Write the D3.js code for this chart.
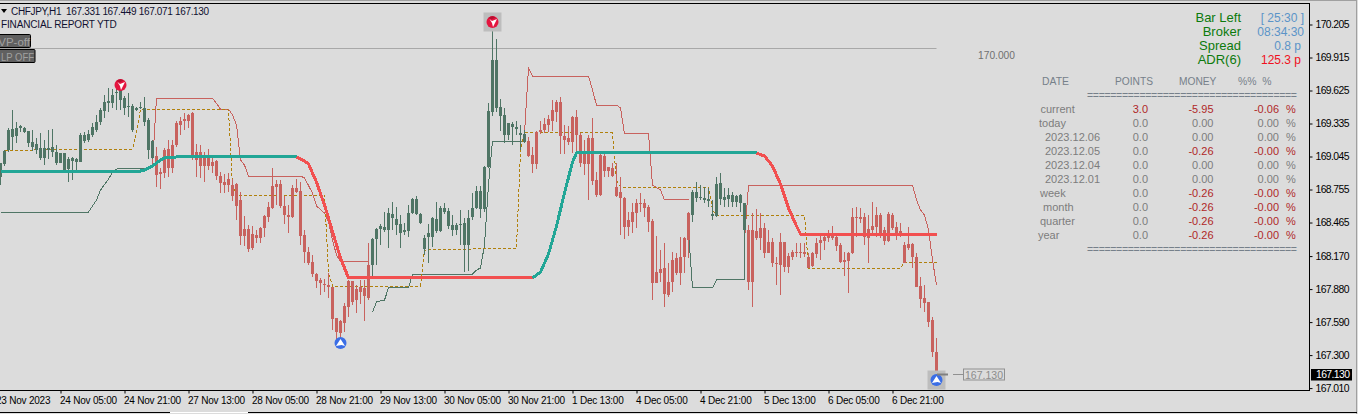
<!DOCTYPE html>
<html><head><meta charset="utf-8">
<script src="https://cdn.jsdelivr.net/npm/d3@7"></script>
<style>html,body{margin:0;padding:0;background:#dcdcdc;overflow:hidden}svg{display:block}text{font-family:"Liberation Sans",Arial,sans-serif}</style>
</head><body><div id="chart"></div>
<script>
// each bar: [high, body top, body bottom, low], in chart order
const bullBarsA=[[168.988,168.988,168.864,168.794],[169.102,169.093,168.979,168.961],[169.296,169.278,169.102,169.084],[169.453,169.287,169.216,169.102],[169.348,169.296,169.225,169.164],[169.322,169.313,169.296,169.260],[169.305,169.296,169.260,169.252],[169.269,169.269,169.164,169.128],[169.278,169.172,169.128,169.093],[169.208,169.155,169.102,169.067],
[169.252,169.120,169.032,169.014],[169.190,169.120,169.032,168.970],[169.278,169.120,169.102,169.023],[169.287,169.128,169.084,169.041],[169.146,169.084,168.988,168.970],[169.076,169.076,168.988,168.988],[169.076,169.076,168.926,168.908],[169.041,169.023,168.935,168.820],[169.041,169.032,169.005,168.838],[169.032,169.023,168.997,168.926],
[169.252,169.234,168.997,168.997],[169.260,169.234,169.181,169.164],[169.278,169.243,169.190,169.172],[169.340,169.305,169.234,169.216],[169.410,169.348,169.278,169.260],[169.471,169.453,169.348,169.322],[169.585,169.523,169.444,169.383],[169.647,169.532,169.515,169.436],[169.638,169.585,169.515,169.471],[169.655,169.612,169.603,169.453],
[169.673,169.647,169.541,169.453],[169.576,169.559,169.471,169.410],[169.603,169.488,169.480,169.392],[169.506,169.488,169.278,169.260],[169.480,169.471,169.453,169.444],[169.523,169.480,169.471,169.462],[169.568,169.471,169.348,169.313],[169.383,169.366,169.102,169.023],[169.190,169.181,169.032,169.023]];
const bearBarsA=[[169.128,169.049,168.882,168.776],[168.944,168.908,168.891,168.759],[169.120,169.102,168.900,168.856],[169.190,169.111,168.944,168.864],[169.190,169.146,168.944,168.900],[169.357,169.340,169.146,169.128],[169.392,169.357,169.322,169.234],[169.427,169.375,169.357,169.278],[169.418,169.410,169.357,169.296],[169.436,169.427,169.032,169.014],
[169.155,169.084,169.014,168.864],[169.146,169.084,168.961,168.856],[169.084,169.049,168.961,168.820],[169.111,169.049,168.961,168.926],[169.032,168.997,168.961,168.900],[169.014,169.005,168.873,168.838],[168.908,168.873,168.812,168.724],[168.891,168.820,168.794,168.724],[168.900,168.847,168.794,168.733],[168.847,168.794,168.698,168.654],
[168.812,168.803,168.610,168.487],[168.733,168.663,168.346,168.267],[168.522,168.408,168.346,168.258],[168.443,168.408,168.232,168.206],[168.434,168.364,168.241,168.223],[168.399,168.355,168.329,168.285],[168.425,168.417,168.329,168.285],[168.531,168.522,168.417,168.337],[168.645,168.601,168.513,168.469],[168.944,168.786,168.592,168.584],
[168.838,168.803,168.776,168.619],[168.838,168.803,168.610,168.592],[168.698,168.610,168.531,168.452],[168.619,168.531,168.513,168.373],[168.794,168.768,168.513,168.505],[168.847,168.768,168.733,168.724],[168.820,168.741,168.346,168.267],[168.399,168.355,168.206,168.109],[168.249,168.206,168.109,168.091],[168.179,168.117,168.012,167.986],
[168.021,168.012,167.951,167.890],[167.978,167.960,167.934,167.828],[167.969,167.925,167.916,167.854],[168.021,167.916,167.898,167.802],[167.898,167.898,167.617,167.520],[167.626,167.626,167.503,167.432],[167.608,167.600,167.494,167.388],[167.758,167.731,167.582,167.503],[167.960,167.951,167.723,167.635],[167.951,167.951,167.767,167.740],
[167.916,167.881,167.784,167.670],[167.960,167.898,167.854,167.749],[167.960,167.890,167.819,167.600],[168.285,168.091,167.802,167.784]];
const bullBarsB=[[168.329,168.320,168.091,167.978],[168.417,168.408,168.320,168.091],[168.452,168.434,168.408,168.267],[168.557,168.425,168.399,168.381],[168.592,168.548,168.399,168.241],[168.645,168.540,168.504,168.399],[168.601,168.496,168.443,168.355],[168.531,168.452,168.373,168.241],[168.461,168.399,168.381,168.355],[168.619,168.548,168.390,168.337],
[168.680,168.671,168.548,168.540],[168.698,168.671,168.540,168.531],[168.548,168.540,168.461,168.452],[168.355,168.329,168.232,168.179],[168.452,168.373,168.337,168.109],[168.513,168.504,168.337,168.249],[168.645,168.496,168.390,168.373],[168.610,168.592,168.390,168.381],[168.636,168.592,168.557,168.540],[168.592,168.566,168.434,168.408],
[168.531,168.443,168.399,168.346],[168.461,168.443,168.399,168.355],[168.575,168.452,168.443,168.267],[168.504,168.461,168.267,168.030],[168.575,168.504,168.267,168.039],[168.724,168.592,168.513,168.487],[168.786,168.741,168.592,168.584],[168.786,168.741,168.584,168.504],[168.961,168.953,168.584,168.557],[169.515,169.444,168.953,168.944],
[170.174,169.893,169.436,169.401],[170.077,169.893,169.471,169.436],[169.550,169.480,169.401,169.269],[169.471,169.410,169.234,169.164],[169.340,169.340,169.234,169.190],[169.348,169.331,169.305,169.146],[169.357,169.305,169.287,169.234],[169.322,169.252,169.234,169.102],[169.278,169.243,169.172,169.164]];
const bearBarsB=[[169.216,169.181,169.049,169.041],[169.128,169.058,168.979,168.900],[169.269,169.260,168.979,168.935],[169.357,169.278,169.260,169.243],[169.383,169.331,169.278,169.252],[169.410,169.375,169.322,169.260],[169.541,169.453,169.357,169.269],[169.541,169.523,169.436,169.348],[169.568,169.523,169.225,169.067],[169.322,169.225,169.190,169.067],
[169.313,169.208,169.172,169.146],[169.401,169.392,169.172,169.076],[169.453,169.392,169.234,169.058],[169.252,169.234,168.988,168.953],[169.190,169.093,168.979,168.882],[169.234,169.208,168.979,168.663],[169.383,169.208,168.829,168.794],[168.908,168.838,168.706,168.689],[169.084,169.058,168.706,168.698],[169.084,169.049,168.917,168.864],
[168.953,168.953,168.917,168.864],[168.988,168.944,168.873,168.864],[168.988,168.776,168.698,168.689],[168.864,168.733,168.680,168.355],[168.689,168.680,168.425,168.320],[168.557,168.487,168.425,168.346],[168.636,168.557,168.469,168.373],[168.671,168.636,168.548,168.417],[168.724,168.636,168.627,168.557],[168.671,168.636,168.592,168.513],
[168.619,168.601,168.469,168.381],[168.496,168.478,167.934,167.784],[168.346,168.030,167.934,167.934],[168.223,168.056,168.021,167.942],[168.285,168.065,167.837,167.723],[168.109,167.942,167.828,167.810],[168.206,168.135,167.942,167.854],[168.197,168.153,168.021,168.003],[168.337,168.162,168.021,167.916],[168.337,168.329,168.162,168.021],
[168.557,168.548,168.311,168.153]];
const bullBarsC=[[168.750,168.733,168.531,168.469],[168.820,168.733,168.680,168.645],[168.794,168.689,168.680,168.663],[168.776,168.680,168.663,168.636],[168.768,168.671,168.654,168.601],[168.663,168.540,168.522,168.487],[168.864,168.803,168.522,168.513],[168.900,168.812,168.671,168.619],[168.768,168.689,168.663,168.601],[168.768,168.706,168.671,168.601],
[168.733,168.706,168.645,168.601],[168.706,168.698,168.645,168.601],[168.715,168.706,168.636,168.557],[168.636,168.636,168.399,168.223]];
const bearBarsC=[[168.443,168.399,167.942,167.872],[168.548,168.399,167.942,167.723],[168.584,168.390,168.329,168.311],[168.548,168.417,168.329,168.223],[168.461,168.417,168.197,168.153],[168.399,168.293,168.197,168.197],[168.329,168.293,168.109,168.074],[168.162,168.109,168.100,167.916],[168.373,168.293,168.091,167.828],[168.293,168.293,168.074,168.030],
[168.197,168.170,168.074,168.021],[168.223,168.206,168.162,168.135],[168.285,168.206,168.197,168.162],[168.285,168.206,168.206,168.153],[168.285,168.206,168.188,168.162],[168.197,168.162,168.065,168.065],[168.206,168.197,168.082,168.074],[168.329,168.285,168.188,168.153],[168.373,168.311,168.285,168.135],[168.373,168.337,168.302,168.223],
[168.399,168.346,168.329,168.293],[168.434,168.346,168.329,168.311],[168.373,168.337,168.258,168.214],[168.285,168.267,168.117,168.109],[168.206,168.135,168.117,167.995],[168.206,168.197,168.126,167.845],[168.592,168.513,168.197,168.188],[168.601,168.513,168.504,168.337],[168.592,168.513,168.496,168.461],[168.548,168.513,168.337,168.267],
[168.531,168.408,168.329,168.109],[168.645,168.434,168.399,168.373],[168.601,168.531,168.425,168.337],[168.548,168.531,168.373,168.329],[168.425,168.399,168.302,168.267],[168.557,168.540,168.302,168.293],[168.548,168.531,168.417,168.399],[168.469,168.425,168.373,168.311],[168.461,168.390,168.355,168.337],[168.293,168.267,168.109,168.109],
[168.425,168.276,168.241,168.223],[168.285,168.276,168.162,168.065],[168.197,168.162,167.898,167.898],[167.986,167.907,167.793,167.714],[167.916,167.802,167.758,167.679],[167.767,167.767,167.591,167.547],[167.635,167.608,167.327,167.283],[167.449,167.331,167.130,167.071]];

// indicator lines: [bar number, price]
const maUpA=[[0,168.909],[34,168.909],[36,168.926],[38,168.961],[40,169.014],[41,169.032],[44,169.041],[74,169.041]];
const maDownA=[[74,169.041],[76,169.005],[77,168.979],[79,168.820],[81,168.619],[82,168.504],[85,168.153],[87,167.978],[133,167.978]];
const maUpB=[[133,167.978],[135,168.030],[137,168.188],[139,168.434],[141,168.724],[143,168.997],[144,169.076],[189,169.076]];
const maDownB=[[189,169.076],[191,169.049],[193,168.961],[195,168.803],[197,168.592],[199,168.434],[200,168.364],[234,168.364]];
const stopBullA=[[0,168.557],[22,168.557],[24,168.663],[25,168.750],[27,168.847],[28,168.908],[29,168.935],[37,168.944],[38,168.970]];
const stopBearA=[[38,168.970],[39,169.559],[53,169.559],[55,169.462],[57,169.462],[58,169.410],[59,169.322],[60,169.014],[61,168.970],[62,168.873],[75,168.873],[76,168.856],[78,168.724],[79,168.610],[81,168.548],[82,168.469],[83,168.311],[84,168.179],[85,168.126],[92,168.126]];
const stopBullB=[[93,167.679],[94,167.767],[96,167.784],[97,167.890],[102,167.890],[103,168.012],[118,168.012],[119,168.047],[120,168.065],[121,168.267],[122,168.794],[123,169.181],[131,169.181]];
const stopBearB=[[131,169.252],[132,169.823],[133,169.752],[147,169.752],[148,169.629],[149,169.497],[154,169.497],[155,169.471],[156,169.243],[162,169.243],[163,168.794],[165,168.750],[166,168.663],[172,168.663]];
const stopBullC=[[172,168.381],[173,167.890],[178,167.890],[179,167.960],[186,167.960],[186,168.311]];
const stopBearC=[[186,168.311],[187,168.794],[228,168.794],[229,168.663],[230,168.575],[231,168.531],[232,168.399],[233,168.135],[234,167.916]];
const dashedStep=[[1,169.102],[8,169.102],[9,169.111],[33,169.111],[34,169.252],[35,169.462],[55,169.462],[57,169.453],[58,168.794],[59,168.706],[81,168.706],[82,168.021],[83,167.907],[105,167.907],[106,168.223],[129,168.241],[130,169.102],[131,169.252],[153,169.252],[154,168.838],[155,168.776],[177,168.776],[178,168.575],[179,168.531],[201,168.531],[202,168.065],[225,168.065],[226,168.117],[234,168.117]];

const priceTicks=[170.205,169.915,169.625,169.335,169.045,168.755,168.465,168.170,167.880,167.590,167.300,167.010];
const timeLabels=["23 Nov 2023","24 Nov 05:00","24 Nov 21:00","27 Nov 13:00","28 Nov 05:00","28 Nov 21:00","29 Nov 13:00","30 Nov 05:00","30 Nov 21:00","1 Dec 13:00","4 Dec 05:00","4 Dec 21:00","5 Dec 13:00","6 Dec 05:00","6 Dec 21:00"];
const timeBars=[-1,15,31,47,63,79,95,111,127,143,159,175,191,207,223];
const sellMarks=[[30,169.673],[123,170.227]];
const buyMarks=[[85,167.406],[234,167.081]];
const levelPrice=170.000, lastPrice=167.130;
const quote=["167.331","167.449","167.071","167.130"];
const infoLabels=["Bar Left","Broker","Spread","ADR(6)"];
const infoValues=["[ 25:30 ]","08:34:30","0.8 p","125.3 p"];
const tableLabels=["current","today","2023.12.06","2023.12.05","2023.12.04","2023.12.01","week","month","quarter","year"];
const tablePoints=["3.0","0.0","0.0","0.0","0.0","0.0","0.0","0.0","0.0","0.0"];
const tableMoney=["-5.95","0.00","0.00","-0.26","0.00","0.00","-0.26","-0.26","-0.26","-0.26"];
const tablePercent=["-0.06","0.00","0.00","-0.00","0.00","0.00","-0.00","-0.00","-0.00","-0.00"];

const W=1358,H=414,BULL="#4f7565",BEAR="#c8625e",TEAL="#22a696",RED="#f25050",ORANGE="#b0800c";
const svg=d3.select("#chart").append("svg").attr("width",W).attr("height",H);
const x=d3.scaleLinear().domain([0,234]).range([0.5,936.5]);
const y=d3.scaleLinear().domain([170.205,167.010]).range([24.5,388.1]);
svg.append("rect").attr("width",W).attr("height",H).attr("fill","#dcdcdc");
svg.append("defs").append("clipPath").attr("id","plot").append("rect").attr("x",0).attr("y",4).attr("width",1309).attr("height",386);
const plot=svg.append("g").attr("clip-path","url(#plot)");

// 170.000 level
plot.append("line").attr("x1",0).attr("x2",x(234)).attr("y1",Math.round(y(levelPrice))+.5).attr("y2",Math.round(y(levelPrice))+.5).attr("stroke","#a8a8a8");
svg.append("text").attr("x",978).attr("y",59).attr("font-size",11).attr("fill","#707070").attr("textLength",37).attr("lengthAdjust","spacingAndGlyphs").text(levelPrice.toFixed(3));

// thin indicator lines
const line=d3.line().x(d=>x(d[0])).y(d=>y(d[1]));
[[stopBullA,BULL],[stopBullB,BULL],[stopBullC,BULL],[stopBearA,BEAR],[stopBearB,BEAR],[stopBearC,BEAR]].forEach(([d,c])=>
  plot.append("path").attr("d",line(d)).attr("fill","none").attr("stroke",c).attr("stroke-width",1).attr("shape-rendering","crispEdges"));
plot.append("path").attr("d",line(dashedStep)).attr("fill","none").attr("stroke",ORANGE).attr("stroke-width",1).attr("stroke-dasharray","3,2").attr("shape-rendering","crispEdges");

// candles
let barNo=0;
[[bullBarsA,BULL],[bearBarsA,BEAR],[bullBarsB,BULL],[bearBarsB,BEAR],[bullBarsC,BULL],[bearBarsC,BEAR]].forEach(([bars,c])=>{
  const g=plot.append("g").attr("fill",c);
  const start=barNo;
  g.selectAll("g").data(bars).enter().append("g").each(function(d,k){
    const s=d3.select(this),cx=x(start+k);
    const h=Math.round(y(d[0])),l=Math.round(y(d[3])),t=Math.round(y(d[1])),b=Math.round(y(d[2]));
    s.append("rect").attr("x",cx-.5).attr("width",1).attr("y",h).attr("height",Math.max(1,l-h));
    s.append("rect").attr("x",cx-1.5).attr("width",3).attr("y",t).attr("height",Math.max(1,b-t));
  });
  barNo+=bars.length;
});

// thick trend line
[[maUpA,TEAL],[maDownA,RED],[maUpB,TEAL],[maDownB,RED]].forEach(([d,c])=>
  plot.append("path").attr("d",line(d)).attr("fill","none").attr("stroke",c).attr("stroke-width",3).attr("stroke-linejoin","round").attr("shape-rendering","crispEdges"));

// signal icons
function backdrop(m){plot.append("rect").attr("x",x(m[0])-9).attr("y",y(m[1])-9.5).attr("width",18).attr("height",19).attr("fill","#bdbdbd");}
backdrop(sellMarks[1]);backdrop(buyMarks[1]);
sellMarks.forEach(m=>{
  const g=plot.append("g").attr("transform",`translate(${x(m[0])},${y(m[1])})`);
  g.append("circle").attr("r",6).attr("fill","#e4153f");
  g.append("path").attr("d","M-3,-3 L-0.5,-1 L4.5,-3 L0.5,5 L-0.5,1 Z").attr("fill","#fff");
  g.append("path").attr("d","M-4,-4 A5.5,5.5 0 0 1 3,-4.5 L-1,-2.5 Z").attr("fill","#b80f30");
});
buyMarks.forEach(m=>{
  const g=plot.append("g").attr("transform",`translate(${x(m[0])},${y(m[1])})`);
  g.append("circle").attr("r",6).attr("fill","#3b6ee6");
  g.append("path").attr("d","M0,-4 L4.5,3 L1,2 L-4.5,3 Z").attr("fill","#fff");
});

// last-price marker and box
const ly=Math.round(y(lastPrice))+.5;
plot.append("line").attr("x1",x(234)+.5).attr("x2",948).attr("y1",ly).attr("y2",ly).attr("stroke","#808080").attr("stroke-width",2);
plot.append("line").attr("x1",953).attr("x2",963).attr("y1",ly).attr("y2",ly).attr("stroke","#909090");
svg.append("rect").attr("x",963.5).attr("y",ly-5.5).attr("width",41).attr("height",11).attr("fill","none").attr("stroke","#909090");
svg.append("text").attr("x",965).attr("y",ly+4).attr("font-size",11).attr("fill","#8c8c8c").attr("textLength",38).attr("lengthAdjust","spacingAndGlyphs").text(lastPrice.toFixed(3));

// axes
const yAxis=d3.axisRight(y).tickValues(priceTicks).tickSize(3).tickPadding(3).tickFormat(d3.format(".3f"));
const ya=svg.append("g").attr("transform","translate(1309.5,0)").call(yAxis);
ya.select(".domain").remove();
ya.selectAll("line").attr("stroke","#000");
ya.selectAll("text").attr("font-size",10.4).attr("letter-spacing",-.6).attr("fill","#000");
const xa=svg.append("g");
const xAxis=d3.axisBottom(x).tickValues(timeBars).tickSize(3).tickPadding(2).tickFormat((d,k)=>timeLabels[k]);
xa.attr("transform","translate(0,390.5)").call(xAxis);
xa.select(".domain").remove();
xa.selectAll("line").attr("stroke","#000");
xa.selectAll("text").attr("text-anchor","start").attr("dx",-1).attr("dy",8).attr("font-size",10).attr("letter-spacing",-.22).attr("fill","#000");

// price tag
svg.append("rect").attr("x",1311).attr("y",ly-5.5).attr("width",41).attr("height",11.5).attr("fill","#000");
svg.append("text").attr("x",1316).attr("y",ly+3.5).attr("font-size",10.4).attr("letter-spacing",-.6).attr("fill","#fff").text(lastPrice.toFixed(3));

// frame
const frame=(a,b,c,d,col)=>svg.append("line").attr("x1",a).attr("y1",b).attr("x2",c).attr("y2",d).attr("stroke",col);
frame(0,.5,1356,.5,"#a0a0a0");
frame(0,3.5,1310,3.5,"#000");
frame(1309.5,3,1309.5,391,"#000");
frame(0,390.5,1310,390.5,"#000");
frame(1356.5,0,1356.5,414,"#a0a0a0");
frame(0,412.5,170,412.5,"#000");
frame(170,412.5,248,412.5,"#fff");
frame(248,412.5,1357,412.5,"#000");

// header text
const txt=(px,py,s,size,col,anchor)=>svg.append("text").attr("x",px).attr("y",py).attr("font-size",size).attr("fill",col).attr("text-anchor",anchor||"start").text(s);
svg.append("path").attr("d","M1,9 L7,9 L4,13 Z").attr("fill","#000");
txt(11,15,"CHFJPY,H1  "+quote.join(" "),10,"#101030").style("white-space","pre").attr("letter-spacing",-.33);
txt(1,28,"FINANCIAL REPORT YTD",10,"#101030").attr("letter-spacing",-.15);
svg.append("rect").attr("x",-2).attr("y",34.5).attr("width",32.5).attr("height",13).attr("rx",1).attr("fill","#606060").attr("stroke","#000");
svg.append("rect").attr("x",-2).attr("y",49.5).attr("width",37).attr("height",13).attr("rx",1).attr("fill","#606060").attr("stroke","#000");
txt(30,45.5,"VP-off",11.5,"#a0a0a0","end");
txt(1,60.5,"LP OFF",11,"#a0a0a0").attr("textLength",33).attr("lengthAdjust","spacingAndGlyphs");

// info block
const infoColors=["#5b94c8","#5b94c8","#5b94c8","#f01020"];
infoLabels.forEach((s,k)=>{
  txt(1241,22+14*k,s,13,"#0c7a0c","end");
  txt(k<2?1304:1301,22+14*k,infoValues[k],12,infoColors[k],"end");
});

// report table
const tableY=d3.scalePoint().domain(d3.range(tableLabels.length)).range([113,239]);
const HEAD="#76808a",GREY="#7c7c7c",LOSS="#b02828";
const labelX=[1040.5,1039,1045,1045,1045,1045,1040,1043,1040,1038];
txt(1042,85,"DATE",10.4,HEAD);txt(1115,85,"POINTS",10.2,HEAD);txt(1179,85,"MONEY",10.2,HEAD);txt(1238,85,"%%  %",10.4,HEAD).style("white-space","pre");
const rule="=".repeat(36);
[98.5,252.5].forEach(py=>txt(1087,py,rule,10.5,HEAD).attr("textLength",210).attr("lengthAdjust","spacing"));
tableLabels.forEach((s,k)=>{
  const py=tableY(k);
  const tone=v=>(parseFloat(v)!==0||v.startsWith("-"))?LOSS:GREY;
  txt(labelX[k],py,s,11,GREY);
  txt(1148,py,tablePoints[k],11,tone(tablePoints[k]),"end");
  txt(1213.5,py,tableMoney[k],11,tone(tableMoney[k]),"end");
  txt(1279,py,tablePercent[k],11,tone(tablePercent[k]),"end");
  txt(1286,py,"%",11,tone(tablePercent[k]));
});
</script></body></html>
